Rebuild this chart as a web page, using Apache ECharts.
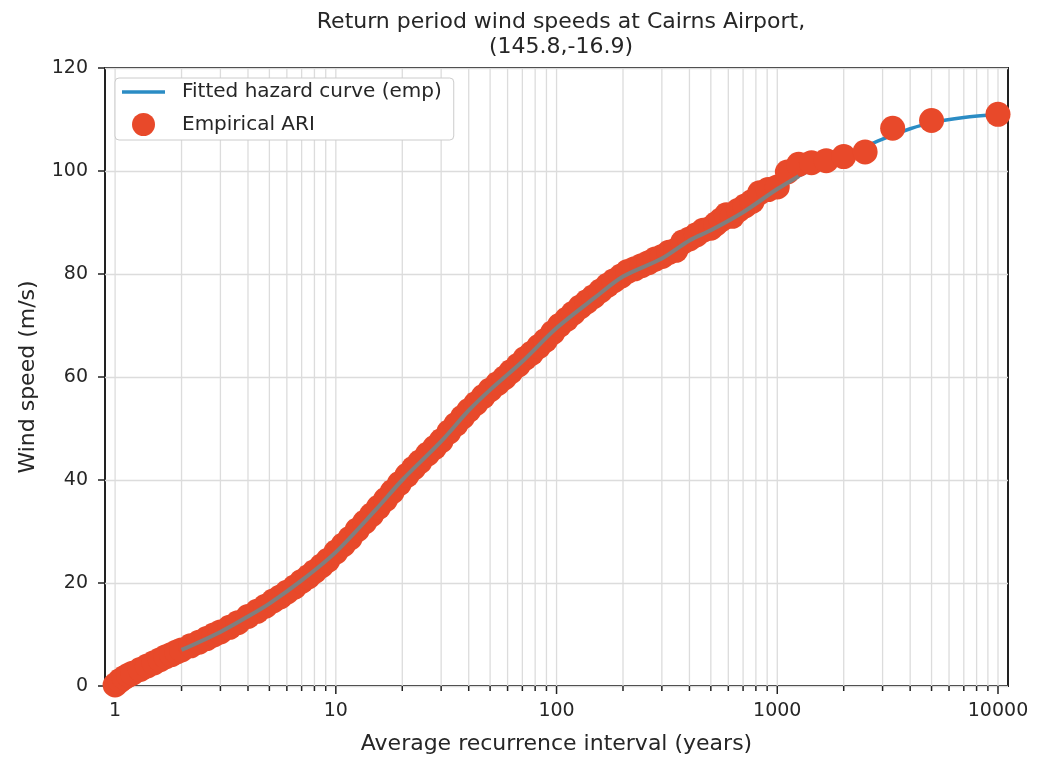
<!DOCTYPE html>
<html>
<head>
<meta charset="utf-8">
<script src="https://cdn.jsdelivr.net/npm/echarts@6/dist/echarts.min.js"></script>
<style>
html,body{margin:0;padding:0;background:#ffffff;}
#chart{width:1038px;height:763px;}
</style>
</head>
<body>
<div id="chart"></div>
<script>
// ---------------- data ----------------
const chartTitle = 'Return period wind speeds at Cairns Airport,\n(145.8,-16.9)';
const xAxisTitle = 'Average recurrence interval (years)';
const yAxisTitle = 'Wind speed (m/s)';
const fitName = 'Fitted hazard curve (emp)';
const empName = 'Empirical ARI';

const xMajorTicks = [1, 10, 100, 1000, 10000];
const xMinorTicks = [2, 3, 4, 5, 6, 7, 8, 9,
  20, 30, 40, 50, 60, 70, 80, 90,
  200, 300, 400, 500, 600, 700, 800, 900,
  2000, 3000, 4000, 5000, 6000, 7000, 8000, 9000];
const yTickValues = [0, 20, 40, 60, 80, 100, 120];

// Empirical ARI points (years, m/s)
const empiricalARI = [1.0, 1.05, 1.1, 1.15, 1.2, 1.3, 1.4, 1.5, 1.6, 1.7, 1.8, 1.9,
  2.0, 2.2, 2.4, 2.6, 2.8, 3.0, 3.3, 3.6, 4.0, 4.4, 4.8, 5.2, 5.6, 6.0, 6.5, 7.0, 7.5,
  8.0, 8.6, 9.2, 10, 10.8, 11.6, 12.5, 13.5, 14.5, 15.6, 16.8, 18, 19.4, 21, 22.5, 24,
  26, 28, 30, 32.5, 35, 37.5, 40, 43, 46.5, 50, 54, 58, 62, 67, 72, 77, 83, 89, 96,
  103, 111, 119, 128, 137, 147, 158, 170, 182, 196, 210, 226, 243, 261, 280, 301, 323,
  347, 373, 400, 430, 462, 500, 526, 556, 588, 625, 667, 714, 769, 833, 909, 1000,
  1111, 1250, 1429, 1667, 2000, 2500, 3333, 5000, 10000];
const empiricalSpeed = [0.2, 1.0, 1.6, 2.1, 2.5, 3.2, 3.9, 4.5, 5.1, 5.7, 6.1, 6.6,
  7.0, 7.8, 8.5, 9.2, 9.9, 10.5, 11.4, 12.3, 13.5, 14.5, 15.5, 16.5, 17.3, 18.2, 19.2, 20.3, 21.2,
  22.2, 23.3, 24.4, 26.0, 27.4, 28.7, 30.3, 31.8, 33.2, 34.7, 36.2, 37.7, 39.3, 40.9, 42.3, 43.5,
  45.0, 46.3, 47.6, 49.3, 50.8, 52.2, 53.5, 54.8, 56.2, 57.5, 58.7, 59.8, 61.0, 62.3, 63.6, 64.6, 65.9, 67.1, 68.6,
  70.0, 71.2, 72.4, 73.6, 74.6, 75.6, 76.7, 77.8, 78.7, 79.6, 80.5, 81.0, 81.6, 82.2, 82.9, 83.4, 84.2,
  84.6, 86.2, 86.8, 87.6, 88.5, 88.9, 89.7, 90.5, 91.5, 91.2, 92.4, 93.2, 94.1, 95.8, 96.4, 96.9,
  99.8, 101.3, 101.6, 102.0, 102.8, 103.7, 108.3, 109.8, 111.0];

// Fitted hazard curve (blue)
const fitARI = [1, 1.5, 2, 3, 5, 7, 10, 15, 20, 30, 50, 70, 100, 150, 200, 300, 500, 700,
  1000, 1250, 1500, 2000, 3000, 4000, 5000, 7000, 10000];
const fitSpeed = [0, 4.5, 7, 10.5, 16, 20.5, 26, 34, 40, 47.5, 57.5, 63, 69.5, 75.5, 79.5, 83, 88.5, 92,
  96.5, 99, 100.6, 102.9, 106.2, 108.2, 109.4, 110.4, 111];

// Grey curve drawn over the empirical points
const greyARI = [2, 3, 4, 5, 7, 10, 15, 20, 30, 40, 50, 70, 100, 150, 200, 300, 400, 500, 700, 1000, 1250];
const greySpeed = [7, 10.5, 13.5, 16, 20.5, 26, 34, 40, 47.5, 53.5, 57.5, 63, 69.5, 75.5, 79.5, 83, 86.5, 88.5, 92, 96.5, 99];

// ---------------- chart ----------------
const FONT = 'DejaVu Sans';
const TXT = '#262626';
const BLUE = '#2b8cc4';
const zip = (a, b) => a.map((v, i) => [v, b[i]]);
const tickData = xMajorTicks.map(v => [v, 1]).concat(xMinorTicks.map(v => [v, 0]));

const chart = echarts.init(document.getElementById('chart'), null, {renderer: 'canvas'});
chart.setOption({
  animation: false,
  backgroundColor: '#ffffff',
  textStyle: {fontFamily: FONT},
  title: {
    text: chartTitle,
    left: 556,
    textAlign: 'center',
    top: 5,
    textStyle: {fontFamily: FONT, fontSize: 22, fontWeight: 'normal', color: TXT, lineHeight: 25}
  },
  grid: {
    left: 105, right: 30, top: 68, bottom: 77,
    show: true, borderColor: '#222222', borderWidth: 2, backgroundColor: 'transparent',
    containLabel: false
  },
  legend: {
    data: [
      {name: fitName, icon: 'path://M0,0 L43,0 L43,3.5 L0,3.5 Z', itemStyle: {color: BLUE}},
      {name: empName, icon: 'circle'}
    ],
    orient: 'vertical',
    left: 115, top: 78,
    itemWidth: 43, itemHeight: 23, itemGap: 11,
    padding: [4, 12, 4, 7],
    backgroundColor: '#ffffff',
    borderColor: '#cccccc', borderWidth: 1, borderRadius: 4,
    textStyle: {fontFamily: FONT, fontSize: 20, color: TXT, padding: [0, 0, 0, 12]}
  },
  xAxis: {
    type: 'log', logBase: 10, min: 0.9, max: 11100,
    name: xAxisTitle, nameLocation: 'middle', nameGap: 47,
    nameTextStyle: {fontFamily: FONT, fontSize: 22, color: TXT},
    axisLine: {show: false},
    axisTick: {show: false},
    splitLine: {show: false},
    axisLabel: {
      customValues: xMajorTicks,
      fontFamily: FONT, fontSize: 19, color: TXT, margin: 16,
      formatter: v => {
        const r = Math.round(v);
        return xMajorTicks.indexOf(r) >= 0 && Math.abs(v - r) < 1e-6 * r + 1e-9 ? String(r) : '';
      }
    }
  },
  yAxis: {
    type: 'value', min: 0, max: 120, interval: 20,
    name: yAxisTitle, nameLocation: 'middle', nameGap: 66,
    nameTextStyle: {fontFamily: FONT, fontSize: 22, color: TXT},
    axisLine: {show: false},
    axisTick: {show: true, length: 7, lineStyle: {color: '#222222', width: 1.5}},
    splitLine: {show: true, lineStyle: {color: '#dcdcdc', width: 1.3}},
    axisLabel: {fontFamily: FONT, fontSize: 19, color: TXT, margin: 17,
      formatter: v => yTickValues.indexOf(v) >= 0 ? String(v) : ''}
  },
  series: [
    {
      type: 'custom', name: 'xgrid', silent: true, z: 1, clip: false,
      data: tickData,
      encode: {x: 0, y: 1},
      renderItem: (params, api) => {
        const v = api.value(0);
        const major = api.value(1) === 1;
        const top = api.coord([v, 120]);
        const bot = api.coord([v, 0]);
        return {
          type: 'group',
          children: [
            {type: 'line', shape: {x1: bot[0], y1: bot[1], x2: top[0], y2: top[1]},
             style: {stroke: '#dcdcdc', lineWidth: 1.3}},
            {type: 'line', shape: {x1: bot[0], y1: bot[1], x2: bot[0], y2: bot[1] + (major ? 8 : 5)},
             style: {stroke: '#222222', lineWidth: 1.5}}
          ]
        };
      }
    },
    {
      name: fitName, type: 'line', z: 2,
      data: zip(fitARI, fitSpeed),
      smooth: 0.3, symbol: 'none', showSymbol: false,
      lineStyle: {color: BLUE, width: 3.5},
      itemStyle: {color: BLUE}
    },
    {
      name: empName, type: 'scatter', z: 3,
      data: zip(empiricalARI, empiricalSpeed),
      symbol: 'circle', symbolSize: 25,
      itemStyle: {color: '#e8492a', opacity: 1}
    },
    {
      name: 'grey', type: 'line', z: 4,
      data: zip(greyARI, greySpeed),
      smooth: 0.3, symbol: 'none', showSymbol: false,
      lineStyle: {color: '#7f7f7f', width: 4},
      itemStyle: {color: '#7f7f7f'}
    }
  ]
});
</script>
</body>
</html>
